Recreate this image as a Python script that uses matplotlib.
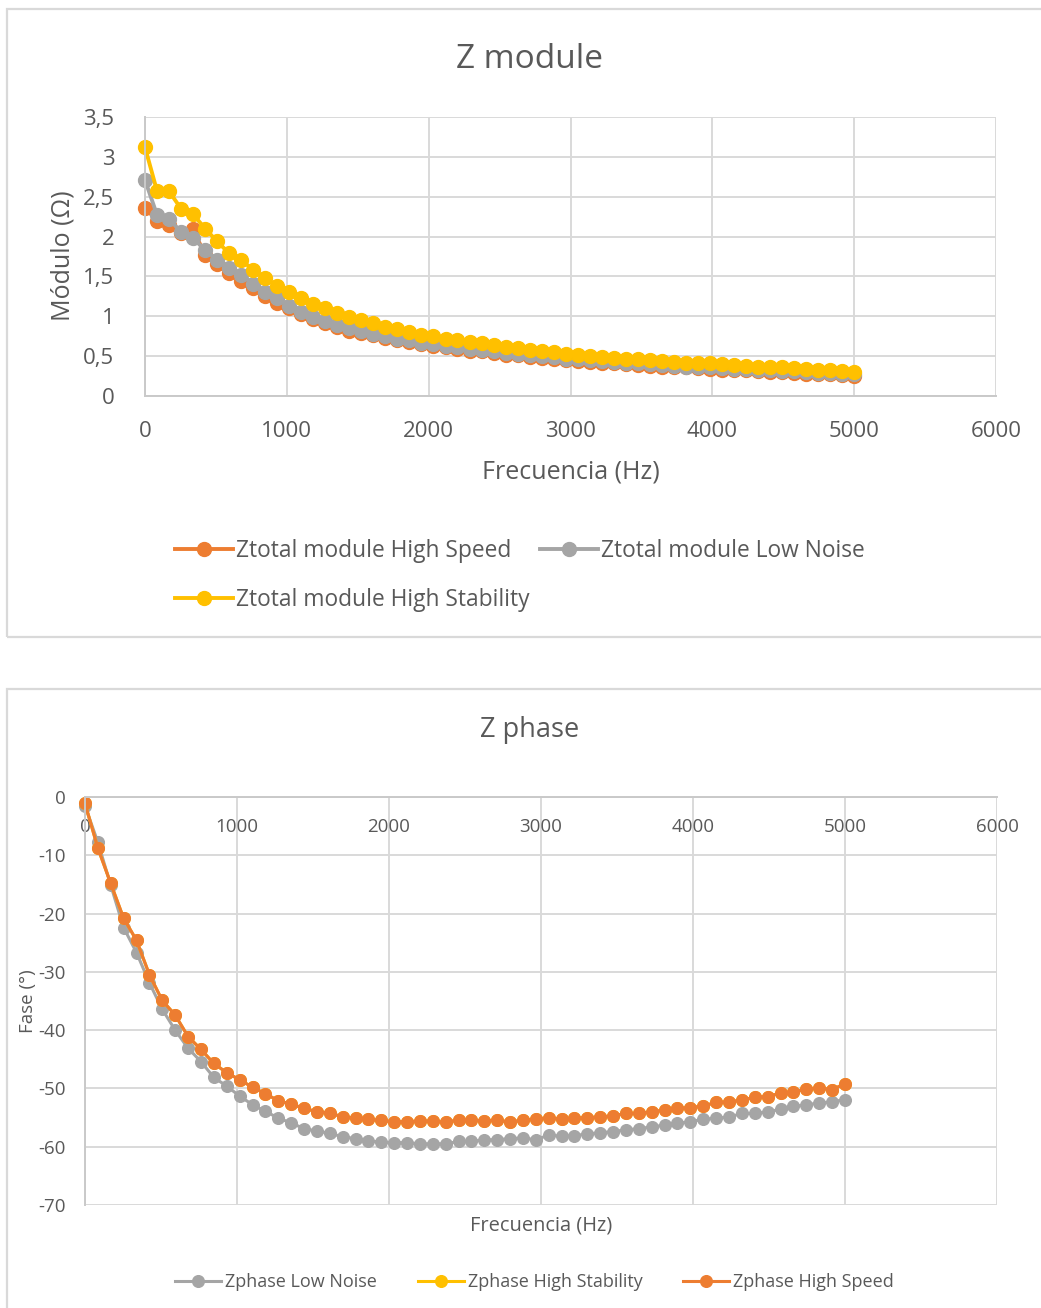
import matplotlib
matplotlib.use("Agg")
import matplotlib.pyplot as plt
from matplotlib.patches import Rectangle
from matplotlib.ticker import FuncFormatter, MultipleLocator

plt.rcParams['font.family'] = ['Open Sans', 'DejaVu Sans']
plt.rcParams['axes.unicode_minus'] = False

# Frequency sweep (Hz)
freq = [0, 85, 169, 254, 339, 424, 508, 593, 678, 763,
        847, 932, 1017, 1102, 1186, 1271, 1356, 1441, 1525, 1610,
        1695, 1780, 1864, 1949, 2034, 2119, 2203, 2288, 2373, 2458,
        2542, 2627, 2712, 2797, 2881, 2966, 3051, 3136, 3220, 3305,
        3390, 3475, 3559, 3644, 3729, 3814, 3898, 3983, 4068, 4153,
        4237, 4322, 4407, 4492, 4576, 4661, 4746, 4831, 4915, 5000]

# |Z| (ohm)
zmod_high_speed = [2.36, 2.20, 2.15, 2.04, 2.09, 1.77, 1.66, 1.54, 1.44, 1.35,
                   1.26, 1.17, 1.10, 1.03, 0.97, 0.91, 0.86, 0.82, 0.79, 0.76,
                   0.73, 0.70, 0.68, 0.65, 0.63, 0.61, 0.59, 0.57, 0.56, 0.54,
                   0.52, 0.51, 0.49, 0.48, 0.47, 0.45, 0.44, 0.43, 0.42, 0.41,
                   0.40, 0.39, 0.38, 0.37, 0.36, 0.36, 0.35, 0.34, 0.33, 0.33,
                   0.32, 0.31, 0.30, 0.30, 0.29, 0.28, 0.27, 0.27, 0.26, 0.25]
zmod_low_noise = [2.71, 2.27, 2.22, 2.06, 1.98, 1.83, 1.71, 1.61, 1.52, 1.41,
                  1.31, 1.23, 1.13, 1.06, 0.99, 0.94, 0.89, 0.85, 0.81, 0.78,
                  0.75, 0.72, 0.70, 0.67, 0.65, 0.63, 0.61, 0.59, 0.58, 0.56,
                  0.54, 0.53, 0.51, 0.50, 0.49, 0.47, 0.46, 0.45, 0.44, 0.43,
                  0.42, 0.41, 0.40, 0.39, 0.38, 0.37, 0.37, 0.36, 0.35, 0.34,
                  0.34, 0.33, 0.32, 0.31, 0.31, 0.30, 0.29, 0.29, 0.28, 0.27]
zmod_high_stability = [3.12, 2.57, 2.57, 2.35, 2.28, 2.10, 1.94, 1.79, 1.71, 1.58,
                       1.48, 1.38, 1.31, 1.23, 1.16, 1.10, 1.04, 0.99, 0.95, 0.91,
                       0.87, 0.84, 0.80, 0.77, 0.75, 0.72, 0.70, 0.68, 0.66, 0.64,
                       0.62, 0.60, 0.58, 0.56, 0.55, 0.53, 0.51, 0.50, 0.49, 0.48,
                       0.47, 0.46, 0.45, 0.44, 0.43, 0.42, 0.42, 0.41, 0.40, 0.39,
                       0.38, 0.37, 0.37, 0.36, 0.35, 0.34, 0.33, 0.32, 0.31, 0.30]

# Phase (degrees)
zph_low_noise = [-1.5, -7.8, -15.1, -22.4, -26.7, -31.9, -36.4, -40.0, -43.1, -45.4,
                 -48.1, -49.6, -51.3, -52.8, -53.9, -55.1, -55.9, -56.9, -57.3, -57.7,
                 -58.3, -58.6, -59.0, -59.2, -59.3, -59.3, -59.5, -59.5, -59.5, -59.1,
                 -59.1, -58.8, -58.8, -58.6, -58.5, -58.8, -58.0, -58.2, -58.1, -57.8,
                 -57.6, -57.4, -57.1, -56.9, -56.6, -56.3, -56.0, -55.7, -55.3, -55.1,
                 -54.9, -54.3, -54.3, -54.0, -53.6, -53.1, -52.8, -52.5, -52.3, -51.9]
zph_high_speed = [-1.1, -8.8, -14.8, -20.8, -24.6, -30.5, -34.9, -37.4, -41.1, -43.3,
                  -45.7, -47.3, -48.5, -49.8, -50.9, -52.1, -52.7, -53.4, -54.0, -54.2,
                  -54.9, -55.1, -55.3, -55.5, -55.7, -55.7, -55.6, -55.6, -55.8, -55.4,
                  -55.4, -55.6, -55.4, -55.8, -55.4, -55.3, -55.0, -55.3, -55.1, -55.0,
                  -54.9, -54.7, -54.3, -54.3, -54.0, -53.7, -53.4, -53.3, -53.0, -52.4,
                  -52.3, -52.0, -51.5, -51.4, -50.8, -50.6, -50.1, -49.9, -50.2, -49.2]
# High Stability phase coincides with the High Speed trace
zph_high_stability = list(zph_high_speed)

x_ticks = [0, 1000, 2000, 3000, 4000, 5000, 6000]

ORANGE = '#ED7D31'
GRAY = '#A5A5A5'
YELLOW = '#FFC000'
GRID = '#D9D9D9'
TEXT = '#595959'

W, H = 1041, 1308
fig = plt.figure(figsize=(W / 100, H / 100), dpi=100)
fig.patch.set_facecolor('white')


def fbox(x0, y0, x1, y1):
    return [x0 / W, 1 - y1 / H, (x1 - x0) / W, (y1 - y0) / H]


# chart frames
for (x0, y0, x1, y1) in [(7, 9, 1045, 637), (7, 689, 1045, 1312)]:
    fig.patches.append(Rectangle((x0 / W, 1 - y1 / H), (x1 - x0) / W, (y1 - y0) / H,
                                 transform=fig.transFigure, fill=False,
                                 edgecolor=GRID, linewidth=1.6, zorder=0))

comma = FuncFormatter(lambda v, p: ('%g' % v).replace('.', ','))

# ---------------- Z module ----------------
ax1 = fig.add_axes(fbox(145, 117, 996, 396))
ax1.set_xlim(0, 6000)
ax1.set_ylim(0, 3.5)
ax1.set_xticks(x_ticks)
ax1.yaxis.set_major_locator(MultipleLocator(0.5))
ax1.yaxis.set_major_formatter(comma)
ax1.grid(True, color=GRID, linewidth=1.4)
ax1.set_axisbelow(True)
for s in ['top', 'right']:
    ax1.spines[s].set_visible(False)
for s in ['left', 'bottom']:
    ax1.spines[s].set_color('#C9C9C9')
    ax1.spines[s].set_linewidth(1.4)
ax1.tick_params(length=0, labelsize=16, labelcolor=TEXT, pad=18)
ax1.tick_params(axis='y', pad=22)

mk1 = dict(marker='o', markersize=10, linewidth=2.8, clip_on=False)
l_hs, = ax1.plot(freq, zmod_high_speed, color=ORANGE, label='Ztotal module High Speed', **mk1)
l_ln, = ax1.plot(freq, zmod_low_noise, color=GRAY, label='Ztotal module Low Noise', **mk1)
l_st, = ax1.plot(freq, zmod_high_stability, color=YELLOW, label='Ztotal module High Stability', **mk1)

fig.text(530 / W, 1 - 60 / H, 'Z module', ha='center', va='center', fontsize=24, color=TEXT)
fig.text(571 / W, 1 - 472 / H, 'Frecuencia (Hz)', ha='center', va='center', fontsize=18, color=TEXT)
fig.text(63 / W, 1 - 256 / H, 'Módulo (Ω)', ha='center', va='center', rotation=90,
         fontsize=18, color=TEXT)

fig.legend([l_hs, l_st, l_ln],
           [l_hs.get_label(), l_st.get_label(), l_ln.get_label()],
           ncol=2, loc='center left', bbox_to_anchor=(175 / W, 1 - 575.5 / H),
           frameon=False, fontsize=16.4, labelcolor=TEXT, borderpad=0, borderaxespad=0,
           handlelength=2.55, handletextpad=0.13, columnspacing=0.45, labelspacing=1.075)

# ---------------- Z phase ----------------
ax2 = fig.add_axes(fbox(85, 797, 997, 1205))
ax2.set_xlim(0, 6000)
ax2.set_ylim(-70, 0)
ax2.set_xticks(x_ticks)
ax2.yaxis.set_major_locator(MultipleLocator(10))
ax2.grid(True, color=GRID, linewidth=1.4)
ax2.set_axisbelow(True)
for s in ['bottom', 'right']:
    ax2.spines[s].set_visible(False)
for s in ['left', 'top']:
    ax2.spines[s].set_color('#C9C9C9')
    ax2.spines[s].set_linewidth(1.4)
ax2.xaxis.set_ticks_position('top')
ax2.tick_params(axis='x', length=0, labelbottom=False, labeltop=True,
                labelsize=13.5, labelcolor=TEXT, pad=-28)
ax2.tick_params(axis='y', length=0, labelsize=13.5, labelcolor=TEXT, pad=14)

mk2 = dict(marker='o', markersize=8.4, linewidth=2.2, clip_on=False)
p_ln, = ax2.plot(freq, zph_low_noise, color=GRAY, label='Zphase Low Noise', **mk2)
p_st, = ax2.plot(freq, zph_high_stability, color=YELLOW, label='Zphase High Stability', **mk2)
p_hs, = ax2.plot(freq, zph_high_speed, color=ORANGE, label='Zphase High Speed', **mk2)

fig.text(530 / W, 1 - 730 / H, 'Z phase', ha='center', va='center', fontsize=19.5, color=TEXT)
fig.text(541 / W, 1 - 1225 / H, 'Frecuencia (Hz)', ha='center', va='center', fontsize=14.4, color=TEXT)
fig.text(28 / W, 1 - 1001 / H, 'Fase (°)', ha='center', va='center', rotation=90,
         fontsize=13.5, color=TEXT)

fig.legend([p_ln, p_st, p_hs],
           [p_ln.get_label(), p_st.get_label(), p_hs.get_label()],
           ncol=3, loc='center left', bbox_to_anchor=(175 / W, 1 - 1282 / H),
           frameon=False, fontsize=13.0, labelcolor=TEXT, borderpad=0, borderaxespad=0,
           handlelength=2.55, handletextpad=0.22, columnspacing=2.25)

fig.savefig('out.png', dpi=100, facecolor='white')
